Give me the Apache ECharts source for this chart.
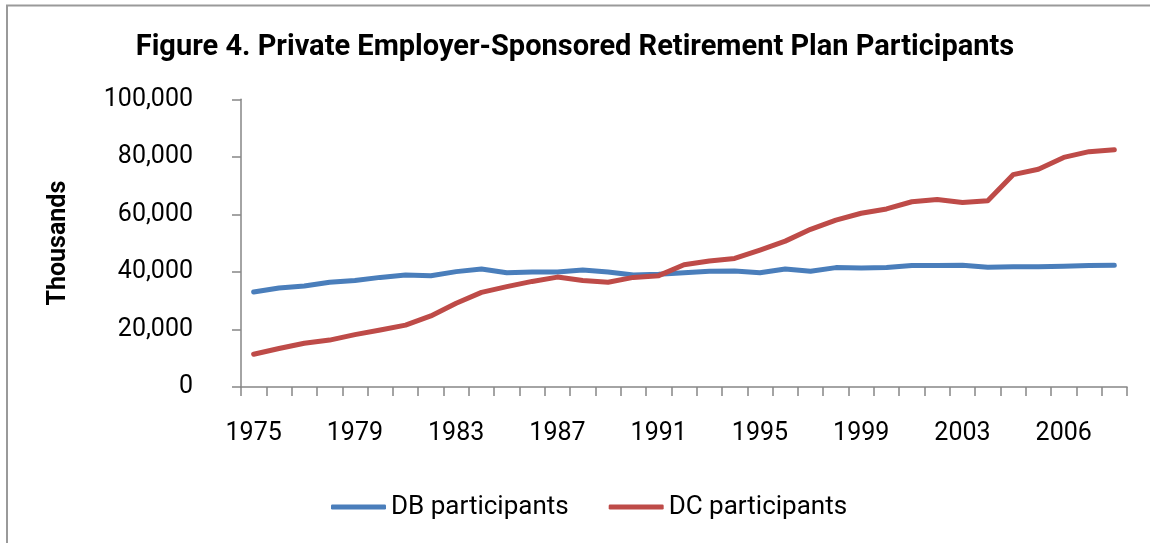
<!DOCTYPE html>
<html>
<head>
<meta charset="utf-8">
<script src="https://cdn.jsdelivr.net/npm/echarts@6/dist/echarts.min.js"></script>
<style>
  html, body { margin: 0; padding: 0; background: #fff; }
  #chart { width: 1150px; height: 543px; }
</style>
</head>
<body>
<div id="chart"></div>
<script>
const years = ['1975','1976','1977','1978','1979','1980','1981','1982','1983','1984',
  '1985','1986','1987','1988','1989','1990','1991','1992','1993','1994',
  '1995','1996','1997','1998','1999','2000','2001','2002','2003','2004',
  '2004','2005','2006','2007','2008'];
const dbParticipants = [33000,34400,35100,36400,37000,38100,38900,38700,40100,41000,
  39700,40000,40000,40700,40000,38900,39200,39700,40200,40300,
  39700,41000,40200,41500,41400,41500,42200,42200,42300,41600,
  41800,41800,42000,42200,42300];
const dcParticipants = [11400,13400,15200,16300,18200,19800,21500,24700,29100,32900,
  34900,36700,38200,37000,36400,38100,38700,42500,43800,44700,
  47600,50700,54800,58000,60400,61900,64400,65200,64100,64700,
  73800,75700,79800,81800,82500];
const seriesNames = ['DB participants', 'DC participants'];
const titleText = 'Figure 4. Private Employer-Sponsored Retirement Plan Participants';
const yAxisName = 'Thousands';

const chart = echarts.init(document.getElementById('chart'), null, { renderer: 'canvas' });
const axisGrey = '#868686';
const font = 'Roboto';
chart.setOption({
  animation: false,
  backgroundColor: '#fff',
  title: {
    text: titleText,
    left: 'center',
    top: 28,
    textStyle: { fontFamily: font, fontWeight: 'bold', fontSize: 29, color: '#000' }
  },
  legend: {
    data: seriesNames,
    bottom: 18,
    left: 326,
    itemWidth: 55,
    itemHeight: 5,
    itemGap: 40,
    icon: 'roundRect',
    textStyle: { fontFamily: font, fontSize: 26, color: '#000' }
  },
  grid: { left: 241, right: 23, top: 99.3, bottom: 156, containLabel: false },
  xAxis: {
    type: 'category',
    data: years,
    boundaryGap: true,
    axisLine: { lineStyle: { color: axisGrey, width: 1.5 } },
    axisTick: { show: true, interval: 0, length: 9, lineStyle: { color: axisGrey, width: 1.5 } },
    axisLabel: { interval: 3, margin: 34, fontFamily: font, fontSize: 25, color: '#000' },
    splitLine: { show: false }
  },
  yAxis: {
    type: 'value',
    min: 0, max: 100000, interval: 20000,
    name: yAxisName,
    nameLocation: 'middle',
    nameGap: 170,
    nameRotate: 90,
    nameTextStyle: { fontFamily: font, fontWeight: 'bold', fontSize: 25, color: '#000' },
    axisLine: { show: true, lineStyle: { color: axisGrey, width: 1.5 } },
    axisTick: { show: true, length: 9, lineStyle: { color: axisGrey, width: 1.5 } },
    axisLabel: {
      margin: 48, fontFamily: font, fontSize: 25, color: '#000',
      formatter: v => v.toLocaleString('en-US')
    },
    splitLine: { show: false }
  },
  graphic: [
    { type: 'line', shape: { x1: 7, y1: 5, x2: 7, y2: 543 }, style: { stroke: '#9a9a9a', lineWidth: 2 } },
    { type: 'line', shape: { x1: 6, y1: 5.5, x2: 1150, y2: 5.5 }, style: { stroke: '#9a9a9a', lineWidth: 2 } }
  ],
  series: [
    {
      name: seriesNames[0], type: 'line', data: dbParticipants,
      symbol: 'none', color: '#4a7ebb',
      lineStyle: { width: 5, color: '#4a7ebb', cap: 'round', join: 'round' }
    },
    {
      name: seriesNames[1], type: 'line', data: dcParticipants,
      symbol: 'none', color: '#be4b48',
      lineStyle: { width: 5, color: '#be4b48', cap: 'round', join: 'round' }
    }
  ]
});
</script>
</body>
</html>
